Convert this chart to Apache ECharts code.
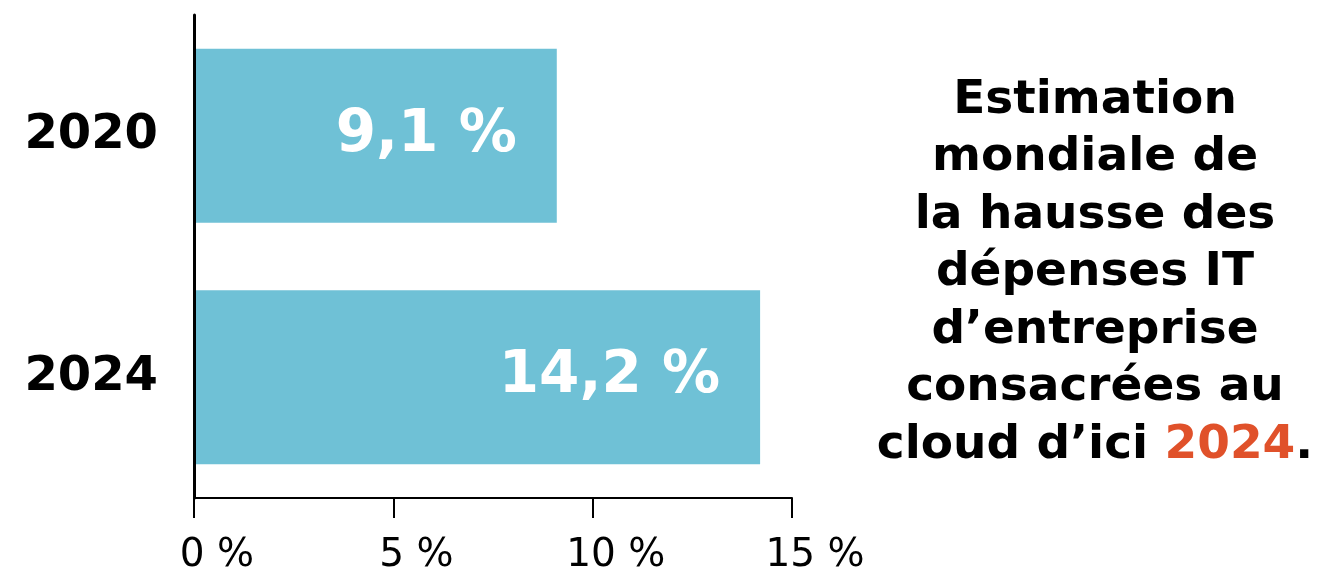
<!DOCTYPE html>
<html>
<head>
<meta charset="utf-8">
<script src="https://cdn.jsdelivr.net/npm/echarts@6/dist/echarts.min.js"></script>
<style>html,body{margin:0;padding:0;background:#fff;}#c{width:1329px;height:575px;}</style>
</head>
<body>
<div id="c"></div>
<script>
const categories = ['2020', '2024'];
const values = [9.1, 14.2];
const tickValues = [0, 5, 10, 15];
const titleLines = ['Estimation', 'mondiale de', 'la hausse des', 'dépenses IT', 'd’entreprise', 'consacrées au'];
const titleLastPlain = 'cloud d’ici ';
const titleHighlight = '2024';
const titleEnd = '.';

const chart = echarts.init(document.getElementById('c'));
const fmt = v => String(v).replace('.', ',') + ' %';
chart.setOption({
  animation: false,
  title: {
    left: 1090,
    top: 67,
    textAlign: 'center',
    text: titleLines.map(l => '{t|' + l + '}').join('\n') + '\n{t|' + titleLastPlain + '}{o|' + titleHighlight + '}{t|' + titleEnd + '}',
    textStyle: {
      rich: {
        t: { fontFamily: 'DejaVu Sans', fontWeight: 'bold', fontSize: 47, lineHeight: 57.5, color: '#000' },
        o: { fontFamily: 'DejaVu Sans', fontWeight: 'bold', fontSize: 47, lineHeight: 57.5, color: '#E0512A' }
      }
    }
  },
  grid: { left: 194, right: 537, top: 15, bottom: 73, containLabel: false },
  xAxis: {
    type: 'value', min: 0, max: 15, interval: 5,
    splitLine: { show: false },
    axisLine: { show: true, lineStyle: { color: '#000', width: 2 } },
    axisTick: { show: true, length: 20, lineStyle: { color: '#000', width: 2 } },
    axisLabel: {
      margin: 38, fontFamily: 'DejaVu Sans', fontSize: 39, color: '#000',
      padding: [0, 0, 0, 46],
      formatter: v => tickValues.includes(v) ? v + ' %' : ''
    }
  },
  yAxis: {
    type: 'category', data: categories, inverse: true, z: 5,
    axisLine: { show: true, lineStyle: { color: '#000', width: 3 } },
    axisTick: { show: false },
    axisLabel: {
      margin: 36, fontFamily: 'DejaVu Sans', fontWeight: 'bold', fontSize: 48, color: '#000',
      padding: [0, 0, 38, 0]
    }
  },
  series: [{
    type: 'bar', data: values, barCategoryGap: '28%',
    itemStyle: { color: '#6FC1D6' },
    label: {
      show: true, position: 'insideRight', distance: 40,
      fontFamily: 'DejaVu Sans', fontWeight: 'bold', fontSize: 58, color: '#fff',
      padding: [0, 0, 8, 0],
      formatter: p => fmt(p.value)
    }
  }]
});
</script>
</body>
</html>
